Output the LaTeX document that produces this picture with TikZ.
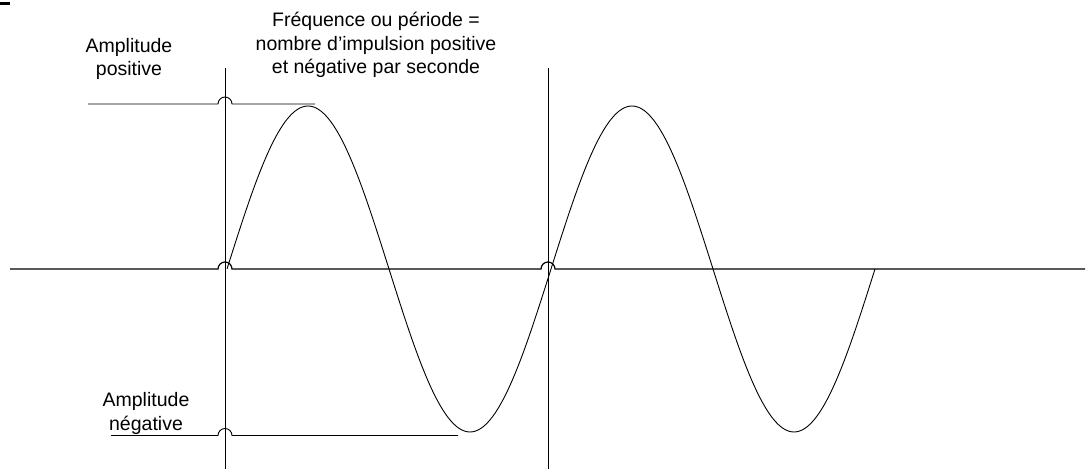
\documentclass[tikz,border=0pt]{standalone}
\usepackage{fontspec}
\setmainfont{Liberation Sans}
\usetikzlibrary{positioning}
\tikzset{
  wavetrace/.style={line width=0.9pt},
  axisline/.style={line width=1.2pt},
  markline/.style={line width=0.9pt},
  wavelabel/.style={align=center,inner sep=0pt,font=\fontsize{19.5}{23.5}\selectfont},
}
\begin{document}
\begin{tikzpicture}[x=1pt,y=1pt]
\useasboundingbox (0,0) rectangle (1087,469);
% small mark top left
\draw[line width=3pt] (0,465.5) -- (10,465.5);
% vertical period lines
\draw[markline] (225,401) -- (225,0);
\draw[markline] (548,401) -- (548,0);
% time axis with hops over the verticals
\draw[axisline] (10,200) -- (218,200) arc[start angle=180,end angle=0,radius=7]
  -- (541,200) arc[start angle=180,end angle=0,radius=7] -- (1085,200);
% amplitude marks
\draw[markline] (88,365) -- (218,365) arc[start angle=180,end angle=0,radius=7] -- (315,365);
\draw[markline] (111,33.5) -- (218,33.5) arc[start angle=180,end angle=0,radius=7] -- (458,33.5);
% sine wave, two periods
\draw[wavetrace] plot[domain=0:648,samples=241,smooth] ({227+\x},{200+163*sin(\x/324*360)});
% labels
\node[wavelabel,anchor=base] (pos) at (129,393) {Amplitude\\positive};
\node[wavelabel,anchor=base] (neg) at (146,39) {Amplitude\\négative};
\node[wavelabel,anchor=base] (freq) at (376,395) {Fréquence ou période =\\nombre d’impulsion positive\\et négative par seconde};
\end{tikzpicture}
\end{document}
